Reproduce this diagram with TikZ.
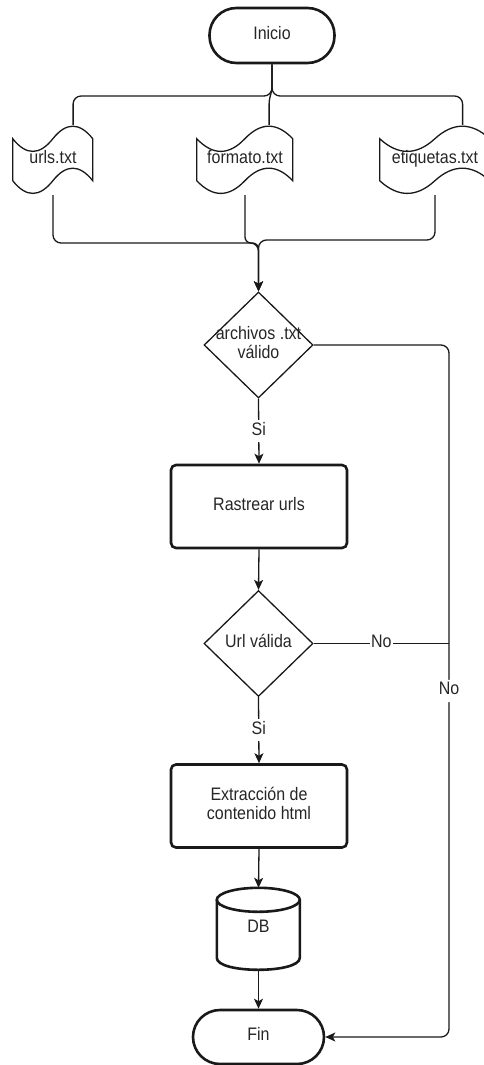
\documentclass[tikz,border=0pt]{standalone}
\usepackage{fontspec}
\setmainfont{Liberation Sans}
\usetikzlibrary{shapes.geometric,arrows.meta,calc}

\newcommand\vtxt[1]{\scalebox{1}[1.13]{\begin{tabular}{@{}c@{}}#1\end{tabular}}}

\newcommand\tapenode[6]{%
  \node[tapebox, minimum width=#4pt, minimum height=#5pt] (#1) at (#2,#3) {\vtxt{#6}};
  \pgfmathsetmacro\tpw{#4}\pgfmathsetmacro\tph{#5}\pgfmathsetmacro\tpd{0.4*#5}%
  \draw[thinln, shift={(#1.north west)}]
    (0,{0.5*\tpd}) .. controls ({\tpw/6},{1.1*\tpd}) and ({\tpw/3},{1.1*\tpd}) .. ({\tpw/2},{0.5*\tpd})
    .. controls ({2*\tpw/3},{-0.1*\tpd}) and ({5*\tpw/6},{-0.1*\tpd}) .. (\tpw,{0.5*\tpd})
    -- (\tpw,{\tph-0.5*\tpd})
    .. controls ({5*\tpw/6},{\tph-1.1*\tpd}) and ({2*\tpw/3},{\tph-1.1*\tpd}) .. ({\tpw/2},{\tph-0.5*\tpd})
    .. controls ({\tpw/3},{\tph+0.1*\tpd}) and ({\tpw/6},{\tph+0.1*\tpd}) .. (0,{\tph-0.5*\tpd})
    -- cycle;
}

\begin{document}
\begin{tikzpicture}[x=1pt,y=-1pt,
  thinln/.style={line width=1.3pt, draw=black!90},
  thickln/.style={line width=2.6pt, draw=black!90},
  txt/.style={font=\fontsize{16}{17}\selectfont, text=black!85, inner sep=0pt},
  term/.style={txt, thickln, rectangle, rounded corners=27pt, minimum width=125pt, minimum height=55pt},
  proc/.style={txt, thickln, rectangle, rounded corners=5pt, minimum width=176pt, minimum height=83pt},
  dia/.style={thinln, diamond, inner sep=0pt, minimum width=109pt, minimum height=106pt},
  tapebox/.style={txt, rectangle, draw=none},
  lbl/.style={txt, fill=white, inner sep=1.5pt},
  arr/.style={thinln, -{Stealth[length=10pt,width=9pt,inset=2.5pt]}},
  conn/.style={thinln, rounded corners=8pt}
]
\useasboundingbox (0,0) rectangle (483,1065);

% nodes
\node[term] (ini) at (272,35.5) {\vtxt{Inicio}};
\tapenode{urls}{53}{160}{80}{70}{urls.txt}
\tapenode{form}{245}{160}{96}{70}{formato.txt}
\tapenode{etiq}{435}{160}{110}{70}{etiquetas.txt}

\node[dia] (d1) at (258.5,345) {};
\node[txt] (d1t) at (d1.center) {\vtxt{archivos .txt\\válido}};
\node[proc] (ras) at (259,506.5) {\vtxt{Rastrear urls}};
\node[dia] (d2) at (258.5,643.5) {};
\node[txt] (d2t) at (d2.center) {\vtxt{Url válida}};
\node[proc] (ext) at (259,806) {\vtxt{Extracción de\\contenido html}};
\node[tapebox, minimum width=83pt, minimum height=82pt] (db) at (258.5,929) {\vtxt{DB}};
\draw[thickln, shift={(db.north west)}]
  (0,12) -- (0,70) .. controls (0,86) and (83,86) .. (83,70) -- (83,12);
\draw[thickln, shift={(db.north west)}] (41.5,12) ellipse [x radius=41.5pt, y radius=12pt];
\node[term, minimum width=131pt, minimum height=54pt] (fin) at (258.5,1037) {\vtxt{Fin}};

% helper coordinates
\coordinate (urlsIn) at ($(urls.north west)!0.75!(urls.north east)$);
\coordinate (formIn) at ($(form.north west)!0.75!(form.north east)$);
\coordinate (etiqIn) at ($(etiq.north west)!0.75!(etiq.north east)$);
\coordinate (tj) at (272,96);
\coordinate (bj) at (258.5,243);
\coordinate (bj2) at (258.5,240);
\coordinate (rx) at (449,0);
\coordinate (nj) at (d2.east -| rx);

% top connectors
\draw[conn] (ini.south) -- (tj) -| (urlsIn);
\draw[conn] (ini.south) -- (tj) -| (etiqIn);
\draw[thinln, rounded corners=4pt] (ini.south) -- (272,90) -- (formIn |- 0,100) -- (formIn);

% bottom connectors
\draw[arr, rounded corners=8pt] (urls.south) |- (bj) -- (d1.north);
\draw[arr, rounded corners=6pt] (form.south) |- (bj) -- (d1.north);
\draw[arr, rounded corners=8pt] (etiq.south) |- (bj2) -- (d1.north);

% main flow
\draw[arr] (d1.south) -- node[lbl] (si1) {\vtxt{Si}} (ras.north);
\draw[arr, rounded corners=8pt] (d1.east) -- (d1.east -| rx) -- node[lbl] (no1) {\vtxt{No}} (fin.east -| rx) -- (fin.east);
\draw[arr] (ras.south) -- (d2.north);
\draw[thinln] (d2.east) -- node[lbl] (no2) {\vtxt{No}} (nj);
\draw[arr] (d2.south) -- node[lbl] (si2) {\vtxt{Si}} (ext.north);
\draw[arr] (ext.south) -- (db.north);
\draw[arr] (db.south) -- (fin.north);
\end{tikzpicture}
\end{document}
